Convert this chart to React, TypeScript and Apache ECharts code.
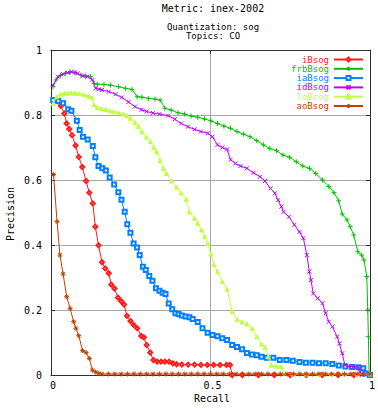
import React, { useEffect, useRef } from 'react';
import * as echarts from 'echarts';

const titleLines = ['Metric: inex-2002', 'Quantization: sog', 'Topics: CO'];
const xAxisTitle = 'Recall';
const yAxisTitle = 'Precision';
const xTickStep = 0.5;
const yTickStep = 0.2;

const seriesNames = ['iBsog', 'frbBsog', 'iaBsog', 'idBsog', 'loBsog', 'aoBsog'];
const seriesColors = ['#ff1a1a', '#00c000', '#0080ff', '#c000ff', '#c0ff40', '#c04000'];

const iBsog: number[][] = [
  [0.012, 0.846], [0.022, 0.842], [0.031, 0.828], [0.042, 0.805], [0.049, 0.774], [0.057, 0.757],
  [0.066, 0.738], [0.077, 0.706], [0.087, 0.671], [0.098, 0.640], [0.110, 0.597], [0.120, 0.561],
  [0.131, 0.528], [0.139, 0.456], [0.149, 0.399], [0.160, 0.347], [0.170, 0.328], [0.181, 0.313],
  [0.189, 0.278], [0.199, 0.266], [0.210, 0.238], [0.220, 0.227], [0.229, 0.217], [0.238, 0.182],
  [0.249, 0.166], [0.259, 0.154], [0.270, 0.144], [0.283, 0.120], [0.291, 0.116], [0.300, 0.092],
  [0.311, 0.069], [0.321, 0.046], [0.333, 0.041], [0.345, 0.041], [0.357, 0.041], [0.370, 0.041],
  [0.382, 0.036], [0.394, 0.033], [0.41, 0.032], [0.43, 0.032], [0.45, 0.032], [0.47, 0.031],
  [0.49, 0.031], [0.51, 0.031], [0.53, 0.031], [0.55, 0.031], [0.561, 0.031], [0.568, 0.0],
  [0.60, 0.0], [0.65, 0.0], [0.70, 0.0], [0.75, 0.0], [0.80, 0.0], [0.85, 0.0], [0.90, 0.0],
  [0.95, 0.0], [1.0, 0.0],
];

const frbBsog: number[][] = [
  [0.006, 0.887], [0.016, 0.908], [0.030, 0.922], [0.045, 0.928], [0.060, 0.932], [0.075, 0.930],
  [0.094, 0.923], [0.109, 0.920], [0.124, 0.918], [0.135, 0.897], [0.145, 0.895], [0.166, 0.894],
  [0.186, 0.892], [0.212, 0.887], [0.234, 0.882], [0.254, 0.879], [0.270, 0.856], [0.285, 0.855],
  [0.306, 0.851], [0.326, 0.849], [0.342, 0.846], [0.357, 0.821], [0.377, 0.815], [0.398, 0.807],
  [0.419, 0.803], [0.439, 0.797], [0.460, 0.793], [0.481, 0.788], [0.501, 0.782], [0.522, 0.774],
  [0.542, 0.766], [0.563, 0.759], [0.583, 0.749], [0.604, 0.741], [0.624, 0.733], [0.645, 0.721],
  [0.666, 0.708], [0.686, 0.697], [0.707, 0.690], [0.727, 0.677], [0.748, 0.670], [0.769, 0.656],
  [0.789, 0.643], [0.810, 0.636], [0.830, 0.620], [0.851, 0.600], [0.871, 0.580], [0.887, 0.561],
  [0.902, 0.536], [0.913, 0.495], [0.928, 0.477], [0.938, 0.456], [0.949, 0.431], [0.962, 0.379],
  [0.974, 0.369], [0.981, 0.354], [0.990, 0.303], [0.993, 0.200], [0.995, 0.118], [0.997, 0.005],
];

const iaBsog: number[][] = [
  [0.007, 0.846], [0.023, 0.843], [0.038, 0.836], [0.054, 0.818], [0.064, 0.813], [0.081, 0.782],
  [0.090, 0.754], [0.100, 0.733], [0.115, 0.725], [0.131, 0.705], [0.139, 0.670], [0.149, 0.643],
  [0.161, 0.636], [0.172, 0.629], [0.184, 0.608], [0.198, 0.586], [0.211, 0.562], [0.221, 0.539],
  [0.231, 0.502], [0.239, 0.464], [0.249, 0.438], [0.259, 0.405], [0.270, 0.392], [0.278, 0.369],
  [0.288, 0.333], [0.297, 0.323], [0.308, 0.305], [0.318, 0.290], [0.329, 0.267], [0.340, 0.259],
  [0.350, 0.253], [0.359, 0.249], [0.369, 0.220], [0.380, 0.202], [0.390, 0.190], [0.400, 0.188],
  [0.410, 0.183], [0.422, 0.180], [0.434, 0.178], [0.444, 0.172], [0.460, 0.163], [0.475, 0.144],
  [0.491, 0.130], [0.506, 0.123], [0.522, 0.119], [0.537, 0.113], [0.552, 0.108], [0.568, 0.092],
  [0.583, 0.086], [0.599, 0.079], [0.614, 0.068], [0.630, 0.063], [0.645, 0.061], [0.660, 0.056],
  [0.676, 0.053], [0.697, 0.053], [0.717, 0.046], [0.738, 0.046], [0.758, 0.044], [0.779, 0.040],
  [0.799, 0.038], [0.820, 0.038], [0.840, 0.036], [0.861, 0.036], [0.882, 0.034], [0.902, 0.029],
  [0.923, 0.026], [0.944, 0.025], [0.964, 0.024], [0.979, 0.021], [0.985, 0.005], [1.0, 0.0],
];

const idBsog: number[][] = [
  [0.006, 0.892], [0.022, 0.918], [0.037, 0.926], [0.052, 0.930], [0.064, 0.933], [0.075, 0.931],
  [0.083, 0.928], [0.099, 0.920], [0.114, 0.918], [0.130, 0.908], [0.140, 0.882], [0.150, 0.879],
  [0.160, 0.877], [0.181, 0.872], [0.202, 0.864], [0.222, 0.854], [0.243, 0.840], [0.263, 0.826],
  [0.284, 0.816], [0.299, 0.811], [0.320, 0.806], [0.340, 0.803], [0.367, 0.798], [0.388, 0.787],
  [0.408, 0.774], [0.429, 0.764], [0.450, 0.756], [0.470, 0.749], [0.491, 0.744], [0.506, 0.733],
  [0.522, 0.708], [0.537, 0.700], [0.552, 0.694], [0.563, 0.662], [0.578, 0.651], [0.594, 0.643],
  [0.614, 0.636], [0.635, 0.622], [0.655, 0.610], [0.671, 0.597], [0.688, 0.574], [0.702, 0.559],
  [0.712, 0.538], [0.722, 0.518], [0.729, 0.502], [0.746, 0.487], [0.763, 0.462], [0.779, 0.440],
  [0.791, 0.421], [0.802, 0.369], [0.810, 0.318], [0.815, 0.292], [0.822, 0.251], [0.836, 0.236],
  [0.851, 0.221], [0.861, 0.190], [0.871, 0.164], [0.882, 0.149], [0.897, 0.118], [0.904, 0.097],
  [0.913, 0.067], [0.921, 0.031], [0.933, 0.026], [0.948, 0.026], [0.964, 0.024], [0.969, 0.010],
  [0.974, 0.0],
];

const loBsog: number[][] = [
  [0.007, 0.836], [0.018, 0.856], [0.030, 0.864], [0.042, 0.867], [0.053, 0.867], [0.063, 0.868],
  [0.076, 0.867], [0.089, 0.866], [0.104, 0.862], [0.118, 0.858], [0.128, 0.853], [0.135, 0.831],
  [0.145, 0.823], [0.158, 0.820], [0.171, 0.817], [0.184, 0.813], [0.197, 0.810], [0.212, 0.807],
  [0.227, 0.803], [0.238, 0.798], [0.249, 0.790], [0.263, 0.777], [0.274, 0.765], [0.285, 0.748],
  [0.299, 0.732], [0.312, 0.718], [0.322, 0.700], [0.331, 0.687], [0.342, 0.660], [0.352, 0.636],
  [0.362, 0.620], [0.377, 0.597], [0.393, 0.578], [0.408, 0.560], [0.424, 0.540], [0.434, 0.502],
  [0.450, 0.482], [0.460, 0.467], [0.472, 0.446], [0.482, 0.426], [0.491, 0.405], [0.501, 0.372],
  [0.511, 0.340], [0.522, 0.318], [0.537, 0.287], [0.552, 0.264], [0.568, 0.195], [0.583, 0.171],
  [0.599, 0.163], [0.614, 0.157], [0.630, 0.143], [0.645, 0.118], [0.660, 0.095], [0.671, 0.085],
  [0.681, 0.056], [0.691, 0.030], [0.707, 0.027], [0.722, 0.026], [0.732, 0.006], [0.76, 0.003],
  [0.80, 0.003], [0.84, 0.003], [0.88, 0.003], [0.92, 0.003], [0.96, 0.003], [1.0, 0.003],
];

const aoBsog: number[][] = [
  [0.008, 0.617], [0.019, 0.472], [0.028, 0.369], [0.038, 0.311], [0.049, 0.241], [0.060, 0.205],
  [0.071, 0.164], [0.078, 0.144], [0.087, 0.121], [0.099, 0.075], [0.110, 0.069], [0.120, 0.051],
  [0.130, 0.015], [0.140, 0.009], [0.150, 0.005], [0.16, 0.003], [0.18, 0.003], [0.20, 0.003],
  [0.22, 0.003], [0.24, 0.003], [0.26, 0.003], [0.28, 0.003], [0.30, 0.003], [0.32, 0.003],
  [0.34, 0.003], [0.36, 0.003], [0.38, 0.003], [0.40, 0.003], [0.42, 0.003], [0.44, 0.003],
  [0.46, 0.003], [0.48, 0.003], [0.50, 0.003], [0.52, 0.003], [0.54, 0.003], [0.56, 0.003],
  [0.58, 0.003], [0.60, 0.003], [0.62, 0.003], [0.64, 0.003], [0.66, 0.003], [0.68, 0.003],
  [0.70, 0.003], [0.72, 0.003], [0.74, 0.003], [0.76, 0.003], [0.78, 0.003], [0.80, 0.003],
  [0.82, 0.003], [0.84, 0.003], [0.86, 0.003], [0.88, 0.003], [0.90, 0.003], [0.92, 0.003],
  [0.94, 0.003], [0.96, 0.003], [0.98, 0.003], [1.0, 0.003],
];

const seriesData = [iBsog, frbBsog, iaBsog, idBsog, loBsog, aoBsog];

const PLUS = 'path://M0,5L10,5M5,0L5,10';
const CROSS = 'path://M0,0L10,10M10,0L0,10';
const STAR = 'path://M0,5L10,5M5,0L5,10M1.5,1.5L8.5,8.5M8.5,1.5L1.5,8.5';
const seriesSymbols = ['emptyDiamond', PLUS, 'emptyRect', CROSS, 'triangle', STAR];
const seriesSymbolSizes = [4, 5, 4, 4, 4, 5];

const FONT = 'DejaVu Sans Mono';

export default function App() {
  const ref = useRef<HTMLDivElement>(null);
  useEffect(() => {
    if (!ref.current) return;
    const chart = echarts.init(ref.current, null, { renderer: 'svg' });
    const frame = '#303030';
    const baseAxis = {
      type: 'value',
      min: 0,
      max: 1,
      axisLine: { show: true, onZero: false, lineStyle: { color: frame, width: 1 } },
      axisTick: { show: true, inside: true, length: 4, lineStyle: { color: frame } },
    };
    const textStyle = (t: string, size = 10) => ({
      text: t,
      align: 'center',
      verticalAlign: 'middle',
      fill: '#000',
      font: `${size}px "${FONT}"`,
    });
    chart.setOption({
      animation: false,
      backgroundColor: '#ffffff',
      grid: { left: 51, right: 3, top: 50, bottom: 33, containLabel: false },
      graphic: [
        ...titleLines.map((t, i) => ({
          type: 'text',
          x: 213,
          y: [8, 26.5, 36][i],
          style: textStyle(t, i === 0 ? 10 : 9),
        })),
        { type: 'text', x: 212, y: 398, style: textStyle(xAxisTitle) },
        { type: 'text', x: 10.5, y: 214, rotation: Math.PI / 2, style: textStyle(yAxisTitle) },
      ],
      legend: {
        orient: 'vertical',
        right: 14,
        top: 55,
        align: 'right',
        padding: 0,
        itemWidth: 29,
        itemHeight: 5,
        itemGap: 0.3,
        textStyle: { fontFamily: FONT, fontSize: 9, lineHeight: 9 },
        data: seriesNames.map((n, i) => ({ name: n, textStyle: { color: seriesColors[i] } })),
      },
      xAxis: [
        {
          ...baseAxis,
          position: 'bottom',
          interval: xTickStep,
          axisLabel: { fontFamily: FONT, fontSize: 10, color: '#000', margin: 5, padding: [0, 0, 0, 4] },
          splitLine: { show: true, lineStyle: { color: '#a8a8a8', width: 1 } },
        },
        {
          ...baseAxis,
          position: 'top',
          interval: xTickStep,
          axisLabel: { show: false },
          splitLine: { show: false },
        },
      ],
      yAxis: [
        {
          ...baseAxis,
          position: 'left',
          interval: yTickStep,
          axisLabel: { fontFamily: FONT, fontSize: 10, color: '#000', margin: 9 },
          splitLine: { show: true, lineStyle: { color: '#a8a8a8', width: 1 } },
        },
        {
          ...baseAxis,
          position: 'right',
          interval: yTickStep,
          axisLabel: { show: false },
          splitLine: { show: false },
        },
      ],
      series: seriesNames.map((n, i) => ({
        name: n,
        type: 'line',
        xAxisIndex: 0,
        yAxisIndex: 0,
        data: seriesData[i],
        symbol: seriesSymbols[i],
        symbolSize: seriesSymbolSizes[i],
        showSymbol: true,
        lineStyle: { color: seriesColors[i], width: 1 },
        itemStyle: { color: seriesColors[i], borderColor: seriesColors[i], borderWidth: 1 },
        emphasis: { disabled: true },
        z: 2 + i,
      })),
    });
    return () => chart.dispose();
  }, []);
  return <div ref={ref} style={{ position: 'absolute', left: 0, top: 0, width: 378, height: 408 }} />;
}
